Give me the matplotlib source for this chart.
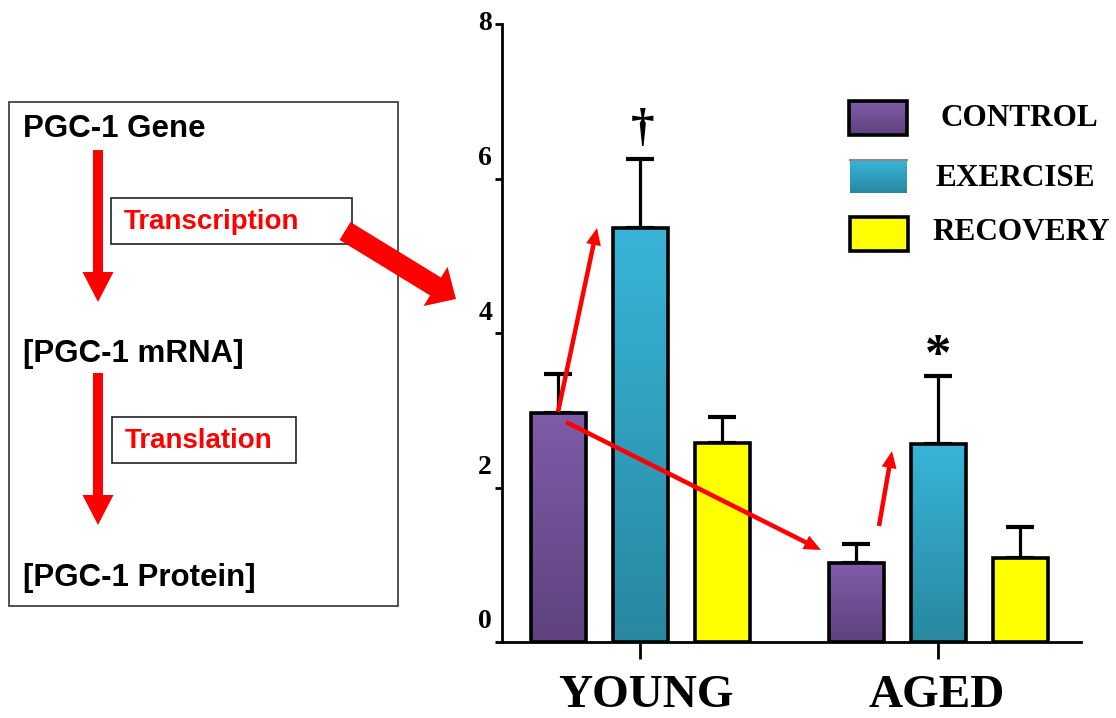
import numpy as np
import matplotlib
matplotlib.use("Agg")
import matplotlib.pyplot as plt
from matplotlib.patches import Rectangle, FancyArrow
from matplotlib.transforms import offset_copy

# data
groups = ["YOUNG", "AGED"]
conditions = ["CONTROL", "EXERCISE", "RECOVERY"]
control = [2.97, 1.02]
control_err = [0.50, 0.25]
exercise = [5.36, 2.56]
exercise_err = [0.89, 0.88]
recovery = [2.58, 1.09]
recovery_err = [0.33, 0.40]
y_ticks = [0, 2, 4, 6, 8]
markers = ["\u2020", "*"]   # dagger over young exercise, star over aged exercise

# flow diagram text
flow_steps = ["PGC-1 Gene", "[PGC-1 mRNA]", "[PGC-1 Protein]"]
flow_labels = ["Transcription", "Translation"]

SERIF = "Liberation Serif"
SANS = "Liberation Sans"
W, H = 1116, 718

fills = {
    "CONTROL": ("#7e5ca8", "#5e427e"),
    "EXERCISE": ("#38b4d8", "#2888a0"),
    "RECOVERY": ("#ffff00", "#ffff00"),
}


def grad(top, bottom, n=64):
    c0 = np.array(matplotlib.colors.to_rgb(top))
    c1 = np.array(matplotlib.colors.to_rgb(bottom))
    t = np.linspace(0, 1, n)[:, None]
    return (c0 * (1 - t) + c1 * t)[:, None, :]


fig = plt.figure(figsize=(W / 100, H / 100), dpi=100)

# ---- bar chart axes (pixel placement from the reference) ----
ax_left, ax_right, y0_px, y8_px = 502, 1081, 642, 24
ax = fig.add_axes([ax_left / W, (H - y0_px) / H, (ax_right - ax_left) / W, (y0_px - y8_px) / H])
ax.patch.set_alpha(0)

step = 82 / 298
bw = 55 / 298
xg = np.arange(len(groups))
series = [control, exercise, recovery]
errs = [control_err, exercise_err, recovery_err]

for i, (cond, vals, ee) in enumerate(zip(conditions, series, errs)):
    xs = xg + (i - 1) * step
    ax.errorbar(xs, vals, yerr=[np.zeros(len(vals)), ee], fmt="none", ecolor="black",
                elinewidth=2.3, capsize=10, capthick=3, zorder=1)
    bars = ax.bar(xs, vals, width=bw, facecolor="none", edgecolor="black", linewidth=2.6, zorder=3)
    top, bot = fills[cond]
    for b in bars:
        im = ax.imshow(grad(top, bot), extent=(b.get_x(), b.get_x() + b.get_width(), 0, b.get_height()),
                       origin="upper", aspect="auto", zorder=2)
        im.set_clip_path(b)

ax.set_xlim((ax_left - 640) / 298, (ax_right - 640) / 298)
ax.set_ylim(0, 8)
for s in ["top", "right"]:
    ax.spines[s].set_visible(False)
for s in ["left", "bottom"]:
    ax.spines[s].set_linewidth(2)
ax.set_xticks(xg)
ax.set_xticklabels([])
ax.tick_params(axis="x", length=12, width=2, direction="out")
ax.set_yticks(y_ticks)
ax.set_yticklabels([])
ax.tick_params(axis="y", length=5, width=2, direction="out")

# y labels sit a little above their ticks in the original (except the top one)
for v in y_ticks:
    dy = 0 if v == 8 else 20
    tr = offset_copy(ax.get_yaxis_transform(), fig=fig, x=-10, y=dy, units="dots")
    ax.text(0, v, str(v), transform=tr, ha="right", va="center",
            fontsize=20, fontweight="bold", family=SERIF)

for g, name in zip(xg, groups):
    ax.annotate(name, xy=(g, 0), xytext=(4 if g == 0 else -1, -47), textcoords="offset points",
                ha="center", va="baseline", fontsize=34, fontweight="bold", family=SERIF,
                annotation_clip=False)

ax.annotate(markers[0], xy=(xg[0], exercise[0] + exercise_err[0]), xytext=(2, 22),
            textcoords="offset points", ha="center", va="center",
            fontsize=34, fontweight="bold", family=SERIF)
ax.annotate(markers[1], xy=(xg[1], exercise[1] + exercise_err[1]), xytext=(0, 14),
            textcoords="offset points", ha="center", va="center",
            fontsize=38, fontweight="bold", family=SERIF)

# ---- overlay in pixel coordinates ----
ov = fig.add_axes([0, 0, 1, 1])
ov.set_xlim(0, W)
ov.set_ylim(H, 0)
ov.axis("off")
ov.patch.set_alpha(0)

# flow box
ov.add_patch(Rectangle((9, 102), 389, 504, fill=False, edgecolor="#333333", linewidth=1.2))
for txt, y in zip(flow_steps, [129, 354, 578]):
    ov.text(23, y, txt, ha="left", va="center", fontsize=22.5, fontweight="bold", family=SANS)
for txt, (bx, by, bwid, bh) in zip(flow_labels, [(111, 198, 241, 46), (112, 417, 184, 46)]):
    ov.add_patch(Rectangle((bx, by), bwid, bh, fill=False, edgecolor="#222222", linewidth=1.2))
    ov.text(bx + 13, by + bh / 2 + 1, txt, ha="left", va="center", color="#ff0000",
            fontsize=20, fontweight="bold", family=SANS)

red = "#ff0000"
for ys, ye in [(150, 302), (373, 525)]:
    ov.add_patch(FancyArrow(98, ys, 0, ye - ys, width=10, head_width=31, head_length=30,
                            length_includes_head=True, color=red, linewidth=0))
# big arrow into the chart
ov.add_patch(FancyArrow(345, 231, 456 - 345, 299 - 231, width=21, head_width=46, head_length=24,
                        length_includes_head=True, color=red, linewidth=0, zorder=5))
# thin arrows on the chart
for (x0, y0), (x1, y1) in [((558, 412), (597, 228)), ((566, 422), (821, 550)), ((879, 526), (892, 451))]:
    ov.add_patch(FancyArrow(x0, y0, x1 - x0, y1 - y0, width=4.5, head_width=15, head_length=17,
                            length_includes_head=True, color=red, linewidth=0, zorder=5))

# legend
leg_boxes = [(849, 101, 58, 34), (850, 160, 57, 33), (850, 217, 58, 34)]
leg_text = [(940, 119), (935, 178), (932, 233)]
for cond, (bx, by, bwid, bh), (tx, ty) in zip(conditions, leg_boxes, leg_text):
    top, bot = fills[cond]
    ov.imshow(grad(top, bot), extent=(bx, bx + bwid, by + bh, by), origin="upper", aspect="auto", zorder=2)
    if cond == "EXERCISE":
        ov.plot([bx, bx + bwid], [by, by], color="#888888", linewidth=1.5, zorder=3)
    else:
        ov.add_patch(Rectangle((bx, by), bwid, bh, fill=False, edgecolor="black", linewidth=2.6, zorder=3))
    ov.text(tx, ty, cond, ha="left", va="center", fontsize=22.5, fontweight="bold", family=SERIF)
ov.set_xlim(0, W)
ov.set_ylim(H, 0)

fig.savefig("out.png", dpi=100)
